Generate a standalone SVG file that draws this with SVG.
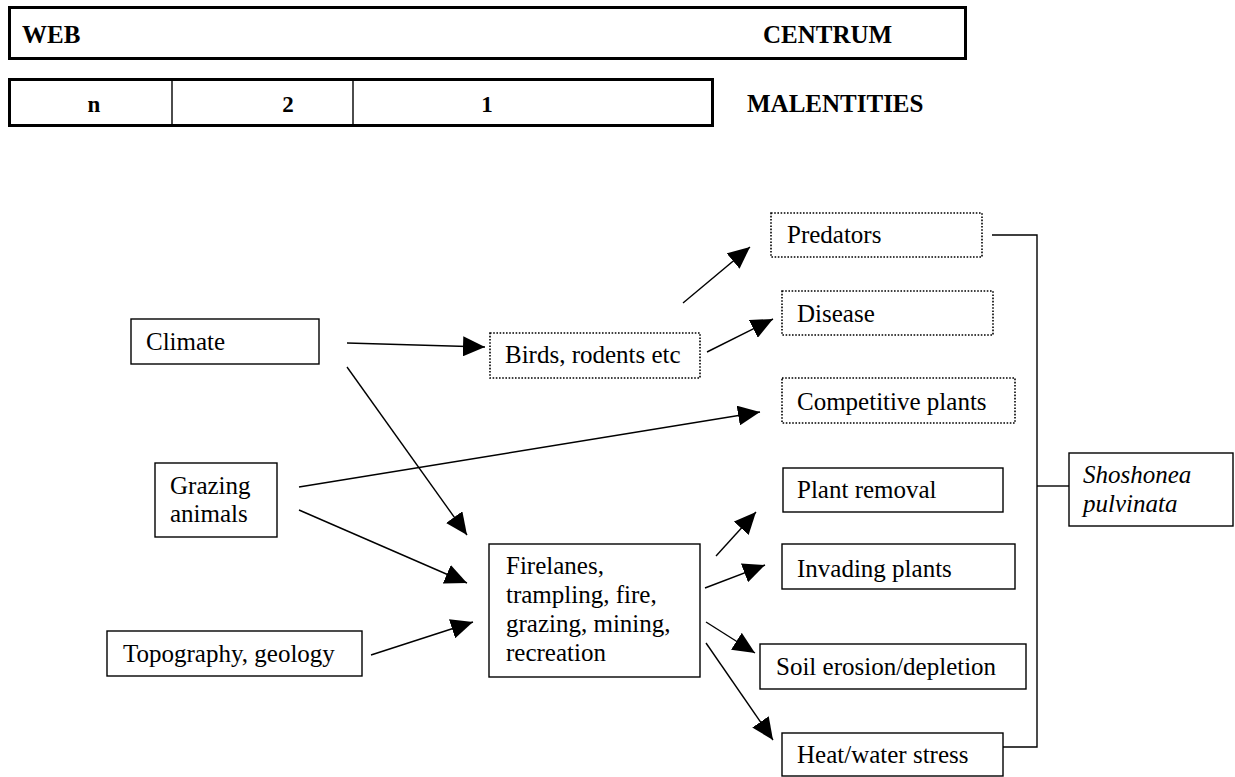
<svg xmlns="http://www.w3.org/2000/svg" width="1235" height="777" viewBox="0 0 1235 777">
<style>
text{font-family:"Liberation Serif","Times New Roman",serif;font-size:25px;fill:#000}
.b{font-weight:bold}
.n{font-size:23px}
.i{font-style:italic}
.box{fill:#fff;stroke:#000;stroke-width:1.4}
.dot{fill:#fff;stroke:#000;stroke-width:1.6;stroke-dasharray:1.6 1.6}
.bar{fill:#fff;stroke:#000;stroke-width:3}
.ln{fill:none;stroke:#000;stroke-width:1.4}
.ar{fill:none;stroke:#000;stroke-width:1.4;marker-end:url(#ah)}
</style>
<defs>
<marker id="ah" markerUnits="userSpaceOnUse" markerWidth="22" markerHeight="20" viewBox="0 0 22 20" refX="22" refY="10" orient="auto">
<path d="M0,0 L22,10 L0,20 z" fill="#000"/>
</marker>
</defs>
<rect width="1235" height="777" fill="#fff"/>
<g id="web-centrum">
<rect class="bar" x="9.5" y="7.5" width="956" height="51"/>
<text class="b" x="22" y="43">WEB</text>
<text class="b" x="763" y="43">CENTRUM</text>
</g>
<g id="malentities">
<rect class="bar" x="9.5" y="79.5" width="703" height="46"/>
<line class="ln" x1="172" y1="80" x2="172" y2="127"/>
<line class="ln" x1="353" y1="80" x2="353" y2="127"/>
<text class="b n" x="94" y="112" text-anchor="middle">n</text>
<text class="b n" x="288" y="112" text-anchor="middle">2</text>
<text class="b n" x="487" y="112" text-anchor="middle">1</text>
<text class="b" x="747" y="112">MALENTITIES</text>
</g>
<g id="climate">
<rect class="box" x="131" y="319" width="188" height="45"/>
<text x="146" y="350">Climate</text>
</g>
<g id="grazing-animals">
<rect class="box" x="155" y="463" width="122" height="74"/>
<text x="170" y="494">Grazing</text>
<text x="170" y="522">animals</text>
</g>
<g id="topography">
<rect class="box" x="107" y="631" width="255" height="45"/>
<text x="123" y="662">Topography, geology</text>
</g>
<g id="birds">
<rect class="dot" x="490" y="333" width="210" height="45"/>
<text x="505" y="363">Birds, rodents etc</text>
</g>
<g id="firelanes">
<rect class="box" x="489" y="544" width="211" height="133"/>
<text x="506" y="574">Firelanes,</text>
<text x="506" y="603">trampling, fire,</text>
<text x="506" y="632">grazing, mining,</text>
<text x="506" y="661">recreation</text>
</g>
<g id="predators">
<rect class="dot" x="771" y="213" width="211" height="44"/>
<text x="787" y="243">Predators</text>
</g>
<g id="disease">
<rect class="dot" x="782" y="291" width="211" height="44"/>
<text x="797" y="322">Disease</text>
</g>
<g id="competitive-plants">
<rect class="dot" x="782" y="378" width="233" height="45"/>
<text x="797" y="410">Competitive plants</text>
</g>
<g id="plant-removal">
<rect class="box" x="783" y="468" width="220" height="44"/>
<text x="797" y="498">Plant removal</text>
</g>
<g id="invading-plants">
<rect class="box" x="782" y="544" width="233" height="45"/>
<text x="797" y="577">Invading plants</text>
</g>
<g id="soil-erosion">
<rect class="box" x="760" y="644" width="266" height="45"/>
<text x="776" y="675">Soil erosion/depletion</text>
</g>
<g id="heat-water">
<rect class="box" x="782" y="733" width="221" height="43"/>
<text x="797" y="763">Heat/water stress</text>
</g>
<g id="shoshonea">
<rect class="box" x="1069" y="453" width="164" height="73"/>
<text class="i" x="1083" y="483">Shoshonea</text>
<text class="i" x="1083" y="512">pulvinata</text>
</g>
<g id="connectors">
<line class="ar" x1="347" y1="343" x2="485" y2="347"/>
<line class="ar" x1="347" y1="367" x2="467" y2="535"/>
<line class="ar" x1="299" y1="487" x2="760" y2="412"/>
<line class="ar" x1="299" y1="510" x2="467" y2="583"/>
<line class="ar" x1="371" y1="655" x2="473" y2="622"/>
<line class="ar" x1="683" y1="303" x2="750" y2="247"/>
<line class="ar" x1="707" y1="352" x2="773" y2="319"/>
<line class="ar" x1="716" y1="556" x2="756" y2="512"/>
<line class="ar" x1="705" y1="588" x2="765" y2="565"/>
<line class="ar" x1="706" y1="622" x2="755" y2="653"/>
<line class="ar" x1="706" y1="643" x2="773" y2="740"/>
<polyline class="ln" points="992,235 1037,235 1037,747 1003,747"/>
<line class="ln" x1="1037" y1="486" x2="1069" y2="486"/>
</g>
</svg>
